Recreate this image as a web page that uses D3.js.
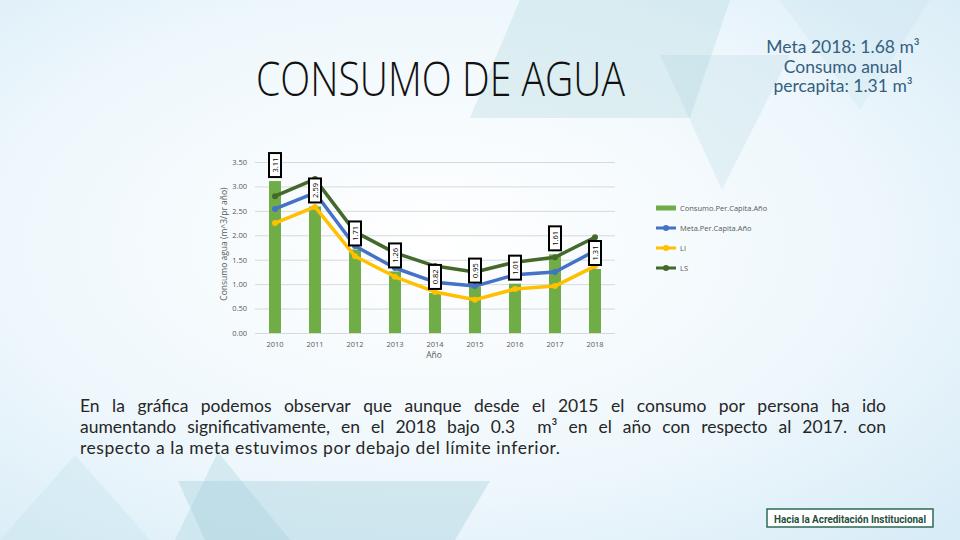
<!DOCTYPE html>
<html>
<head>
<meta charset="utf-8">
<script src="https://cdn.jsdelivr.net/npm/d3@7"></script>
<style>
  body { margin: 0; background: #fff; }
  svg { display: block; }
</style>
</head>
<body>
<svg width="960" height="540"></svg>
<script>
// datos
var years = ['2010', '2011', '2012', '2013', '2014', '2015', '2016', '2017', '2018'];
var consumo = [3.11, 2.59, 1.71, 1.26, 0.82, 0.95, 1.01, 1.61, 1.31];
var meta = [2.54, 2.87, 1.78, 1.33, 1.04, 0.96, 1.19, 1.25, 1.68];
var li = [2.25, 2.58, 1.57, 1.15, 0.84, 0.68, 0.90, 0.96, 1.37];
var ls = [2.80, 3.15, 2.07, 1.64, 1.37, 1.25, 1.45, 1.55, 1.96];
var yTicks = [0, 0.5, 1, 1.5, 2, 2.5, 3, 3.5];
var legendNames = ['Consumo.Per.Capita.Año', 'Meta.Per.Capita.Año', 'LI', 'LS'];
var parrafo = [
  'En la gráfica podemos observar que aunque desde el 2015 el consumo por persona ha ido',
  'aumentando significativamente, en el 2018 bajo 0.3  m³ en el año con respecto al 2017. con',
  'respecto a la meta estuvimos por debajo del límite inferior.'
];

var svg = d3.select('svg');

// ---- fondo ----
var defs = svg.append('defs');
var grad = defs.append('radialGradient').attr('id', 'bg')
  .attr('cx', '45%').attr('cy', '45%').attr('r', '75%');
grad.append('stop').attr('offset', '0%').attr('stop-color', '#ffffff');
grad.append('stop').attr('offset', '60%').attr('stop-color', '#eef7fc');
grad.append('stop').attr('offset', '100%').attr('stop-color', '#d8ecf7');
svg.append('rect').attr('width', 960).attr('height', 540).attr('fill', 'url(#bg)');

var deco = [
  {pts: [[470, 118], [520, 0], [730, 0], [690, 118]], fill: '#a9d3dc', op: 0.3},
  {pts: [[660, 55], [790, 55], [722, 190]], fill: '#9fcbd6', op: 0.2},
  {pts: [[780, 0], [930, 0], [860, 110]], fill: '#b9dbe6', op: 0.2},
  {pts: [[175, 540], [218, 452], [290, 540]], fill: '#a9d3dc', op: 0.35},
  {pts: [[178, 481], [490, 481], [455, 540], [205, 540]], fill: '#9fcbd6', op: 0.35},
  {pts: [[0, 540], [75, 455], [150, 540]], fill: '#c4e1ea', op: 0.35}
];
svg.append('g').selectAll('polygon').data(deco).enter().append('polygon')
  .attr('points', function(d) { return d.pts.map(function(p) { return p.join(','); }).join(' '); })
  .attr('fill', function(d) { return d.fill; })
  .attr('opacity', function(d) { return d.op; });

// ---- titulos ----
svg.append('text')
  .attr('x', 256).attr('y', 96)
  .attr('textLength', 369).attr('lengthAdjust', 'spacingAndGlyphs')
  .style('font-family', 'Open Sans').style('font-weight', 300)
  .style('font-size', '47px').style('fill', '#111')
  .text('CONSUMO DE AGUA');

var meta_txt = ['Meta 2018: 1.68 m³', 'Consumo anual', 'percapita: 1.31 m³'];
svg.append('g').selectAll('text').data(meta_txt).enter().append('text')
  .attr('x', 843).attr('y', function(d, i) { return 53 + i * 19.5; })
  .attr('text-anchor', 'middle')
  .style('font-family', 'Lato').style('font-size', '17.5px').style('fill', '#34607f')
  .text(function(d) { return d; });

// ---- grafica ----
var x = d3.scaleBand().domain(years).range([255, 615]);
var y = d3.scaleLinear().domain([0, 3.5]).range([333, 162]);
var barW = 12;

var g = svg.append('g');

g.append('g')
  .attr('transform', 'translate(255,0)')
  .call(d3.axisLeft(y).tickValues(yTicks).tickSize(-360).tickFormat(d3.format('.2f')).tickPadding(8))
  .call(function(a) {
    a.select('.domain').remove();
    a.selectAll('.tick line').attr('stroke', '#d9d9d9');
    a.selectAll('.tick text').style('font-family', 'Open Sans').style('font-size', '7.5px').style('fill', '#595959');
  });

g.append('g').attr('transform', 'translate(0,333)')
  .call(d3.axisBottom(x).tickSize(0).tickPadding(9))
  .call(function(a) {
    a.select('.domain').remove();
    a.selectAll('.tick text').style('font-family', 'Open Sans').style('font-size', '7.5px').style('fill', '#595959');
  });

// barras
g.selectAll('.bar').data(consumo).enter().append('rect')
  .attr('class', 'bar')
  .attr('x', function(d, i) { return x(years[i]) + x.bandwidth() / 2 - barW / 2; })
  .attr('y', function(d) { return y(d); })
  .attr('width', barW)
  .attr('height', function(d) { return y(0) - y(d); })
  .attr('fill', '#70ad47');

// lineas
var series = [
  {vals: li, color: '#ffc000'},
  {vals: meta, color: '#4472c4'},
  {vals: ls, color: '#44692b'}
];
var line = d3.line()
  .x(function(d, i) { return x(years[i]) + x.bandwidth() / 2; })
  .y(function(d) { return y(d); });

series.forEach(function(s) {
  g.append('path').datum(s.vals)
    .attr('d', line).attr('fill', 'none')
    .attr('stroke', s.color).attr('stroke-width', 3.5).attr('stroke-linejoin', 'round');
  g.selectAll(null).data(s.vals).enter().append('circle')
    .attr('cx', function(d, i) { return x(years[i]) + x.bandwidth() / 2; })
    .attr('cy', function(d) { return y(d); })
    .attr('r', 3).attr('fill', s.color);
});

// etiquetas de datos
var lab = g.selectAll('.lab').data(consumo).enter().append('g')
  .attr('class', 'lab')
  .attr('transform', function(d, i) {
    return 'translate(' + (x(years[i]) + x.bandwidth() / 2) + ',' + (y(d) - 16) + ')';
  });
lab.append('rect')
  .attr('x', -6).attr('y', -12).attr('width', 12).attr('height', 24)
  .attr('fill', '#fff').attr('stroke', '#000').attr('stroke-width', 2);
lab.append('text')
  .attr('transform', 'rotate(-90)')
  .attr('text-anchor', 'middle').attr('dy', '0.35em')
  .style('font-family', 'Open Sans').style('font-size', '7.5px').style('fill', '#000')
  .text(function(d) { return d.toFixed(2); });

// titulos de ejes
g.append('text').attr('x', 434).attr('y', 358).attr('text-anchor', 'middle')
  .style('font-family', 'Open Sans').style('font-size', '8.5px').style('fill', '#595959')
  .text('Año');
g.append('text').attr('transform', 'translate(227,244) rotate(-90)').attr('text-anchor', 'middle')
  .style('font-family', 'Open Sans').style('font-size', '8.5px').style('fill', '#595959')
  .text('Consumo agua (m^3/pr año)');

// leyenda
var legendColors = ['#70ad47', '#4472c4', '#ffc000', '#44692b'];
var leg = svg.append('g').selectAll('g').data(legendNames).enter().append('g')
  .attr('transform', function(d, i) { return 'translate(656,' + (208 + i * 20) + ')'; });
leg.append('line').attr('x1', 0).attr('x2', 20)
  .attr('stroke', function(d, i) { return legendColors[i]; })
  .attr('stroke-width', function(d, i) { return i == 0 ? 5 : 3; });
leg.filter(function(d, i) { return i > 0; }).append('circle')
  .attr('cx', 10).attr('r', 3).attr('fill', function(d) { return legendColors[legendNames.indexOf(d)]; });
leg.append('text').attr('x', 24).attr('dy', '0.35em')
  .style('font-family', 'Open Sans').style('font-size', '7.5px').style('fill', '#595959')
  .text(function(d) { return d; });

// ---- parrafo justificado ----
var pg = svg.append('g')
  .style('font-family', 'Lato').style('font-size', '17.5px').style('fill', '#262626');
parrafo.forEach(function(txt, li_) {
  var yy = 412 + li_ * 21;
  if (li_ == parrafo.length - 1) {
    pg.append('text').attr('x', 80).attr('y', yy)
      .attr('textLength', 480).attr('lengthAdjust', 'spacing')
      .text(txt);
    return;
  }
  var words = txt.split(' ');
  var widths = words.map(function(w) {
    var t = pg.append('text').text(w);
    var wd = t.node().getComputedTextLength();
    t.remove();
    return wd;
  });
  var total = d3.sum(widths);
  var gap = (886 - 80 - total) / (words.length - 1);
  var cx = 80;
  words.forEach(function(w, k) {
    pg.append('text').attr('x', cx).attr('y', yy).text(w);
    cx += widths[k] + gap;
  });
});

// ---- pie ----
svg.append('rect').attr('x', 767).attr('y', 509).attr('width', 166).attr('height', 18)
  .attr('fill', '#fff').attr('stroke', '#2d6a55').attr('stroke-width', 1.5);
svg.append('text').attr('x', 850).attr('y', 522.5).attr('text-anchor', 'middle')
  .attr('textLength', 152).attr('lengthAdjust', 'spacingAndGlyphs')
  .style('font-family', 'Roboto').style('font-weight', 'bold').style('font-size', '11px')
  .style('fill', '#1f4f40')
  .text('Hacia la Acreditación Institucional');
</script>
</body>
</html>
